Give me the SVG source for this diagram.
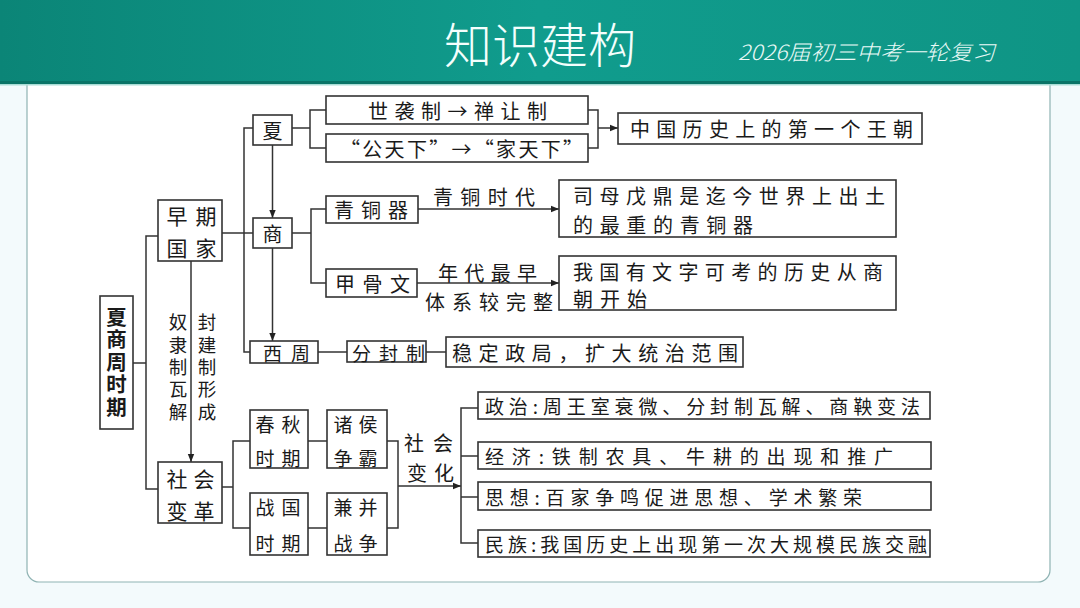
<svg xmlns="http://www.w3.org/2000/svg" width="1080" height="608" viewBox="0 0 1080 608">
<defs>
<linearGradient id="hdr" x1="0" y1="0" x2="1" y2="0">
<stop offset="0" stop-color="#0b8577"/>
<stop offset="0.5" stop-color="#109c8d"/>
<stop offset="1" stop-color="#0f9585"/>
</linearGradient>
<marker id="arr" markerUnits="userSpaceOnUse" markerWidth="9" markerHeight="8" refX="8" refY="4" orient="auto">
<path d="M0,0.8 L8,4 L0,7.2 z" fill="#222"/>
</marker>
<style>
.bx{fill:#fff;stroke:#333;stroke-width:1.6}
.t{font-family:"Noto Sans CJK SC","Noto Sans CJK JP",sans-serif;font-size:20px;fill:#1a1a1a;dominant-baseline:central}
.v{font-family:"Noto Sans CJK SC","Noto Sans CJK JP",sans-serif;fill:#1a1a1a;writing-mode:vertical-rl;text-orientation:upright;dominant-baseline:central}
.c{text-anchor:middle}
.cn{fill:none;stroke:#333;stroke-width:1.5}
.ar{marker-end:url(#arr)}
</style>
</defs>
<rect x="0" y="0" width="1080" height="608" fill="#f3fafc"/>
<path d="M27,84 H1050 V570 A12,12 0 0 1 1038,582 H39 A12,12 0 0 1 27,570 Z" fill="#fff" stroke="#8fb3b3" stroke-width="1.2"/>
<g id="header">
<rect x="0" y="0" width="1080" height="83" fill="url(#hdr)"/>
<rect x="0" y="81" width="1080" height="3" fill="#0a7467"/>
<rect x="0" y="84" width="1080" height="1.5" fill="#a9ddd6"/>
<text x="540" y="42" class="c" style="font-family:'Noto Sans CJK SC',sans-serif;font-weight:300;font-size:48px;fill:#f4fffd;dominant-baseline:central">知识建构</text>
<text x="738" y="51" textLength="257" lengthAdjust="spacingAndGlyphs" style="font-family:'Noto Sans CJK SC',sans-serif;font-style:italic;font-weight:300;font-size:21px;fill:#eafaf7;dominant-baseline:central">2026届初三中考一轮复习</text>
</g>
<g id="connectors">
<path class="cn" d="M133,363 H146"/>
<path class="cn" d="M158,236 H146 V489 H158"/>
<path class="cn" d="M222,233 H253"/>
<path class="cn" d="M253,128 H244 V352 H250"/>
<path class="cn ar" d="M272.5,145 V218"/>
<path class="cn ar" d="M272.5,248 V341"/>
<path class="cn ar" d="M191,261 V462"/>
<path class="cn" d="M292,128 H310"/>
<path class="cn" d="M326,110 H310 V148 H326"/>
<path class="cn" d="M588,110 H598 V148 H588"/>
<path class="cn ar" d="M598,128 H618"/>
<path class="cn" d="M292,233 H311"/>
<path class="cn" d="M326,209 H311 V283 H326"/>
<path class="cn ar" d="M418,209 H559"/>
<path class="cn ar" d="M417,283 H559"/>
<path class="cn" d="M318,352 H347"/>
<path class="cn" d="M426,352 H446"/>
<path class="cn" d="M222,487 H233"/>
<path class="cn" d="M250,441 H233 V528 H250"/>
<path class="cn" d="M308,441 H327"/>
<path class="cn" d="M308,528 H327"/>
<path class="cn" d="M387,441 H398 V528 H387"/>
<path class="cn ar" d="M398,486 H461"/>
<path class="cn" d="M478,408 H461 V543 H478"/>
<path class="cn" d="M461,456 H478"/>
<path class="cn" d="M461,497 H478"/>
<text class="v" style="font-size:18.5px" x="178" y="313" textLength="108" lengthAdjust="spacing">奴隶制瓦解</text>
<text class="v" style="font-size:18.5px" x="207" y="313" textLength="108" lengthAdjust="spacing">封建制形成</text>
<text class="t" x="433" y="196" textLength="102" lengthAdjust="spacing">青铜时代</text>
<text class="t" x="438" y="272" textLength="99" lengthAdjust="spacing">年代最早</text>
<text class="t" x="425" y="301" textLength="128" lengthAdjust="spacing">体系较完整</text>
<text class="t c" x="414 443" y="442">社会</text>
<text class="t c" x="417 444" y="472">变化</text>
</g>
<g id="n-xsz"><rect class="bx" x="100" y="296" width="33" height="133"/>
<text class="v" style="font-size:20.5px;font-weight:700" x="116.5" y="307" textLength="110" lengthAdjust="spacing">夏商周时期</text></g>
<g id="n-zqgj"><rect class="bx" x="158" y="200" width="64" height="61"/>
<text class="t c" style="font-size:21px" x="177 206" y="215">早期</text>
<text class="t c" style="font-size:21px" x="177 206" y="247">国家</text></g>
<g id="n-xia"><rect class="bx" x="253" y="115" width="39" height="30"/><text class="t c" x="272.5" y="130">夏</text></g>
<g id="n-shang"><rect class="bx" x="253" y="218" width="39" height="30"/><text class="t c" x="272.5" y="233">商</text></g>
<g id="n-xizhou"><rect class="bx" x="250" y="341" width="68" height="22"/><text class="t" style="font-size:19px" x="263" y="352" textLength="47" lengthAdjust="spacing">西周</text></g>
<g id="n-sxz"><rect class="bx" x="326" y="96" width="262" height="28"/><text class="t" x="368" y="110" textLength="179" lengthAdjust="spacing">世袭制→禅让制</text></g>
<g id="n-gtx"><rect class="bx" x="326" y="134" width="262" height="28"/><text class="t" x="340" y="148" textLength="243" lengthAdjust="spacing">“公天下”→“家天下”</text></g>
<g id="n-first"><rect class="bx" x="618" y="113" width="304" height="31"/><text class="t" x="630" y="128.5" textLength="283" lengthAdjust="spacing">中国历史上的第一个王朝</text></g>
<g id="n-qtq"><rect class="bx" x="326" y="196" width="92" height="27"/><text class="t" x="334" y="209.5" textLength="74" lengthAdjust="spacing">青铜器</text></g>
<g id="n-smw"><rect class="bx" x="559" y="180" width="337" height="57"/>
<text class="t" x="573" y="195" textLength="312" lengthAdjust="spacing">司母戊鼎是迄今世界上出土</text>
<text class="t" x="573" y="224.5" textLength="180" lengthAdjust="spacing">的最重的青铜器</text></g>
<g id="n-jgw"><rect class="bx" x="326" y="269" width="91" height="28"/><text class="t" x="335" y="283" textLength="75" lengthAdjust="spacing">甲骨文</text></g>
<g id="n-wgy"><rect class="bx" x="559" y="256" width="337" height="54"/>
<text class="t" x="573" y="271" textLength="310" lengthAdjust="spacing">我国有文字可考的历史从商</text>
<text class="t" x="573" y="298" textLength="74" lengthAdjust="spacing">朝开始</text></g>
<g id="n-ffz"><rect class="bx" x="347" y="341" width="79" height="21"/><text class="t" style="font-size:19px" x="352" y="352" textLength="73" lengthAdjust="spacing">分封制</text></g>
<g id="n-wdzj"><rect class="bx" x="446" y="337" width="297" height="30"/><text class="t" x="452" y="352" textLength="286" lengthAdjust="spacing">稳定政局，扩大统治范围</text></g>
<g id="n-shbg"><rect class="bx" x="158" y="462" width="64" height="61"/>
<text class="t c" style="font-size:21px" x="177 204" y="478">社会</text>
<text class="t c" style="font-size:21px" x="177 204" y="510">变革</text></g>
<g id="n-cq"><rect class="bx" x="250" y="410" width="58" height="58"/>
<text class="t c" style="font-size:19px" x="265 291" y="423">春秋</text>
<text class="t c" style="font-size:19px" x="265 291" y="457">时期</text></g>
<g id="n-zg"><rect class="bx" x="250" y="493" width="58" height="62"/>
<text class="t c" style="font-size:19px" x="265 291" y="506">战国</text>
<text class="t c" style="font-size:19px" x="265 291" y="542">时期</text></g>
<g id="n-zhzb"><rect class="bx" x="327" y="410" width="60" height="58"/>
<text class="t c" style="font-size:19px" x="343 368" y="423">诸侯</text>
<text class="t c" style="font-size:19px" x="343 368" y="457">争霸</text></g>
<g id="n-jbzz"><rect class="bx" x="327" y="493" width="60" height="62"/>
<text class="t c" style="font-size:19px" x="343 368" y="506">兼并</text>
<text class="t c" style="font-size:19px" x="343 368" y="542">战争</text></g>
<g id="n-zz"><rect class="bx" x="478" y="392" width="452" height="27"/><text class="t" style="font-size:19px" x="485" y="405.5" textLength="435" lengthAdjust="spacing">政治:周王室衰微、分封制瓦解、商鞅变法</text></g>
<g id="n-jj"><rect class="bx" x="478" y="442" width="453" height="27"/><text class="t" style="font-size:19px" x="485" y="455.5" textLength="408" lengthAdjust="spacing">经济:铁制农具、牛耕的出现和推广</text></g>
<g id="n-sx"><rect class="bx" x="478" y="482" width="453" height="28"/><text class="t" style="font-size:19px" x="485" y="496" textLength="377" lengthAdjust="spacing">思想:百家争鸣促进思想、学术繁荣</text></g>
<g id="n-mz"><rect class="bx" x="478" y="530" width="452" height="27"/><text class="t" style="font-size:19px" x="485" y="543.5" textLength="442" lengthAdjust="spacing">民族:我国历史上出现第一次大规模民族交融</text></g>
</svg>
